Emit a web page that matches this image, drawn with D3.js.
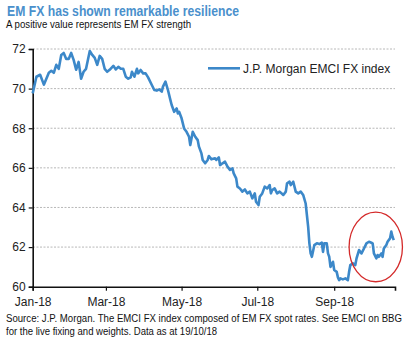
<!DOCTYPE html>
<html>
<head>
<meta charset="utf-8">
<script src="https://cdn.jsdelivr.net/npm/d3@7"></script>
<style>
  html, body { margin: 0; padding: 0; background: #fff; }
  svg { display: block; font-family: "Liberation Sans", Arial, sans-serif; }
</style>
</head>
<body>
<svg id="chart" width="417" height="349"></svg>
<script>
// ---- Data ----
const dates = [
  "2018-01-01","2018-01-04","2018-01-07","2018-01-10","2018-01-14","2018-01-16","2018-01-18","2018-01-20",
  "2018-01-22","2018-01-24","2018-01-26","2018-01-28","2018-01-30","2018-02-01","2018-02-03","2018-02-05",
  "2018-02-07","2018-02-09","2018-02-11","2018-02-13","2018-02-16","2018-02-18","2018-02-20","2018-02-22",
  "2018-02-24","2018-02-26","2018-02-28","2018-03-02","2018-03-04","2018-03-07","2018-03-09","2018-03-11",
  "2018-03-13","2018-03-15","2018-03-17","2018-03-19","2018-03-21","2018-03-22","2018-03-24","2018-03-26",
  "2018-03-27","2018-03-29","2018-03-31","2018-04-02","2018-04-04","2018-04-07","2018-04-09","2018-04-11",
  "2018-04-13","2018-04-15","2018-04-16","2018-04-18","2018-04-20","2018-04-22","2018-04-23","2018-04-25",
  "2018-04-27","2018-04-28","2018-04-29","2018-05-01","2018-05-03","2018-05-05","2018-05-07","2018-05-08",
  "2018-05-10","2018-05-12","2018-05-14","2018-05-15","2018-05-17","2018-05-18","2018-05-20","2018-05-22",
  "2018-05-23","2018-05-25","2018-05-28","2018-05-29","2018-05-31","2018-06-01","2018-06-03","2018-06-05",
  "2018-06-07","2018-06-09","2018-06-11","2018-06-12","2018-06-14","2018-06-15","2018-06-17","2018-06-19",
  "2018-06-21","2018-06-23","2018-06-25","2018-06-27","2018-06-29","2018-06-30","2018-07-02","2018-07-03",
  "2018-07-05","2018-07-07","2018-07-09","2018-07-11","2018-07-12","2018-07-13","2018-07-15","2018-07-17",
  "2018-07-19","2018-07-22","2018-07-24","2018-07-25","2018-07-27","2018-07-28","2018-07-30","2018-08-01",
  "2018-08-03","2018-08-05","2018-08-07","2018-08-09","2018-08-11","2018-08-12","2018-08-13","2018-08-14",
  "2018-08-16","2018-08-18","2018-08-20","2018-08-22","2018-08-23","2018-08-24","2018-08-26","2018-08-27",
  "2018-08-28","2018-08-29","2018-08-31","2018-09-01","2018-09-03","2018-09-04","2018-09-05","2018-09-06",
  "2018-09-08","2018-09-10","2018-09-12","2018-09-13","2018-09-14","2018-09-16","2018-09-18","2018-09-19",
  "2018-09-21","2018-09-22","2018-09-23","2018-09-25","2018-09-27","2018-09-29","2018-10-01","2018-10-02",
  "2018-10-03","2018-10-05","2018-10-06","2018-10-07","2018-10-09","2018-10-10","2018-10-11","2018-10-13",
  "2018-10-14","2018-10-16","2018-10-17","2018-10-18","2018-10-19"
];
const emciValues = [
  69.76,70.6,70.7,70.2,70.8,70.9,70.8,71.2,
  71.0,71.7,71.8,71.5,71.5,71.8,71.45,70.95,
  71.35,70.5,70.85,71.0,71.9,71.7,71.55,71.2,
  71.65,71.5,71.0,70.85,70.95,71.15,70.97,71.1,
  71.0,71.0,70.6,70.5,70.57,70.85,70.6,71.0,
  70.77,70.94,70.77,70.77,70.57,70.18,69.93,69.9,
  69.96,69.85,70.1,70.35,69.93,69.42,69.17,68.83,
  69.0,68.75,68.83,68.5,67.99,67.82,67.57,67.15,
  67.82,67.57,67.4,67.07,66.73,66.4,66.23,66.4,
  66.6,66.43,66.48,66.4,66.53,66.14,66.23,66.31,
  66.06,65.9,65.97,65.72,65.47,65.05,64.96,64.8,
  64.91,64.71,64.8,64.46,64.71,64.29,64.12,64.54,
  64.71,65.05,64.96,65.13,64.71,64.88,64.96,64.71,
  64.8,64.63,64.8,65.22,65.3,65.13,65.3,64.8,
  64.71,64.8,64.63,64.2,63.03,62.19,61.68,61.51,
  62.1,62.19,62.15,62.22,61.76,62.19,62.19,61.68,
  61.51,61.0,61.26,60.84,60.75,60.47,60.33,60.42,
  60.37,60.42,60.33,60.75,61.09,61.18,61.09,61.43,
  61.85,61.76,61.68,61.93,62.19,62.27,62.22,62.19,
  61.68,61.43,61.6,61.51,61.68,61.51,61.93,62.1,
  62.27,62.44,62.78,62.52,62.35
];
const yTicks = [60, 62, 64, 66, 68, 70, 72];
const xTickDates = ["2018-01-01","2018-03-01","2018-05-01","2018-07-01","2018-09-01"];
const xDomain = ["2018-01-01","2018-10-20"];
const seriesName = "J.P. Morgan EMCI FX index";
const title = "EM FX has shown remarkable resilience";
const subtitle = "A positive value represents EM FX strength";
const sourceLines = [
  "Source: J.P. Morgan. The EMCI FX index composed of EM FX spot rates. See EMCI on BBG",
  "for the live fixing and weights. Data as at 19/10/18"
];
// highlighted region (recent period)
const highlightStart = "2018-09-13", highlightEnd = "2018-10-26";
const highlightLow = 60.25, highlightHigh = 63.76;

// ---- Chart ----
const parse = d3.utcParse("%Y-%m-%d");
const data = dates.map((d, i) => ({ date: parse(d), value: emciValues[i] }));

const svg = d3.select("#chart");
const blue = "#3c88c9";

const x = d3.scaleUtc().domain(xDomain.map(parse)).range([32.7, 395]);
const y = d3.scaleLinear().domain([60, 72]).range([286.7, 49]);

// title & subtitle
svg.append("text").attr("x", 7).attr("y", 15.5)
  .attr("font-size", 14.5).attr("font-weight", "bold").attr("fill", "#4a90cc")
  .attr("textLength", 232).attr("lengthAdjust", "spacingAndGlyphs")
  .text(title);
svg.append("text").attr("x", 6).attr("y", 28.3)
  .attr("font-size", 10).attr("fill", "#111")
  .attr("textLength", 185).attr("lengthAdjust", "spacingAndGlyphs")
  .text(subtitle);

// gridlines
svg.append("g").selectAll("line").data(yTicks.filter(t => t !== 60)).join("line")
  .attr("x1", 33).attr("x2", 395)
  .attr("y1", d => y(d)).attr("y2", d => y(d))
  .attr("stroke", "#b8b8b8").attr("stroke-width", 1).attr("stroke-dasharray", "2,1.5");

// y axis
const yAxis = svg.append("g").attr("transform", "translate(32.7,0)")
  .call(d3.axisLeft(y).tickValues(yTicks).tickSize(4).tickPadding(3).tickFormat(d3.format("d")));
yAxis.select(".domain").attr("stroke", "#111").attr("stroke-width", 1.6);
yAxis.selectAll(".tick line").attr("stroke", "#111").attr("stroke-width", 1.2);
yAxis.selectAll("text").attr("font-size", 12).attr("fill", "#222")
  .attr("font-family", "Liberation Sans, Arial, sans-serif");

// x axis
const xAxis = svg.append("g").attr("transform", "translate(0,286.7)")
  .call(d3.axisBottom(x).tickValues(xTickDates.map(parse)).tickSize(4).tickPadding(7)
    .tickFormat(d3.utcFormat("%b-%y")));
xAxis.select(".domain").attr("stroke", "#111").attr("stroke-width", 1.6);
xAxis.selectAll(".tick line").attr("stroke", "#111").attr("stroke-width", 1.2);
xAxis.selectAll("text").attr("font-size", 12).attr("fill", "#222")
  .attr("font-family", "Liberation Sans, Arial, sans-serif");

// line
svg.append("path").datum(data)
  .attr("fill", "none").attr("stroke", blue).attr("stroke-width", 2.6)
  .attr("stroke-linejoin", "round")
  .attr("d", d3.line().x(d => x(d.date)).y(d => y(d.value)));

// legend
svg.append("line").attr("x1", 208).attr("x2", 240).attr("y1", 68.3).attr("y2", 68.3)
  .attr("stroke", blue).attr("stroke-width", 2.6);
svg.append("text").attr("x", 243).attr("y", 72.5).attr("font-size", 12).attr("fill", "#222")
  .text(seriesName);

// red highlight ellipse
const hx0 = x(parse(highlightStart)), hx1 = x(parse(highlightEnd));
const hy0 = y(highlightHigh), hy1 = y(highlightLow);
svg.append("ellipse")
  .attr("cx", (hx0 + hx1) / 2).attr("cy", (hy0 + hy1) / 2)
  .attr("rx", (hx1 - hx0) / 2).attr("ry", (hy1 - hy0) / 2)
  .attr("fill", "none").attr("stroke", "#d42a2a").attr("stroke-width", 1.3);

// source
svg.append("g").selectAll("text").data(sourceLines).join("text")
  .attr("x", 6).attr("y", (d, i) => 321.5 + i * 13)
  .attr("font-size", 10).attr("fill", "#111")
  .attr("textLength", (d, i) => i === 0 ? 396 : 211)
  .attr("lengthAdjust", "spacingAndGlyphs")
  .text(d => d);
</script>
</body>
</html>
